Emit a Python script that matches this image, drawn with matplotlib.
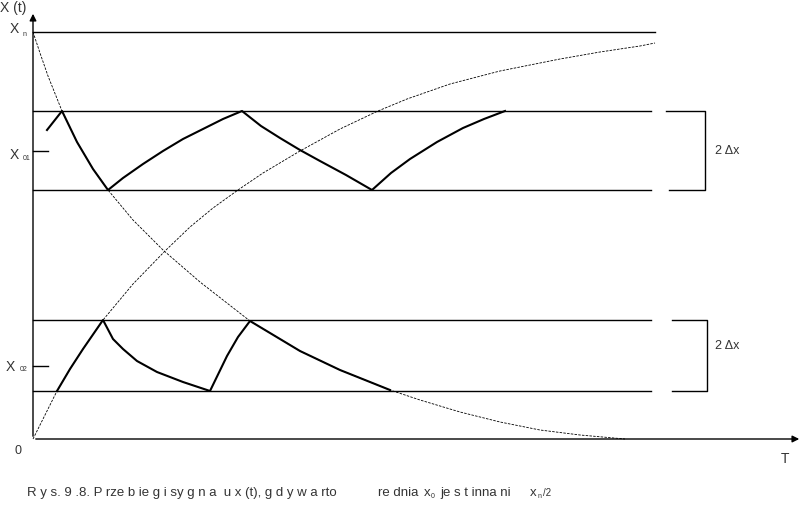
import matplotlib
matplotlib.use("Agg")
import matplotlib.pyplot as plt

# time axis and signal values in arbitrary units (x_n = 407)
xn = 407
band1 = (249, 328)   # upper band x01 +- dx
x01 = 288
band2 = (48, 119)    # lower band x02 +- dx
x02 = 73

# exponential discharge (dotted)
t_down = [0, 7, 15, 29, 44, 60, 75, 100, 130, 167, 217, 267, 307, 357, 387, 427, 467, 507, 547, 592]
x_down = [407, 386, 363, 328, 297, 270, 249, 219, 189, 157, 118, 88, 69, 49, 39, 27, 17, 9, 4, 0]

# exponential charge (dotted)
t_up = [0, 24, 37, 50, 70, 100, 132, 157, 180, 205, 230, 267, 307, 345, 374, 417, 467, 527, 567, 607, 622]
x_up = [0, 48, 70, 90, 119, 155, 188, 212, 231, 249, 266, 288, 310, 328, 340, 355, 368, 380, 387, 393, 396]

# signal when mean value is x01
t_s1 = [14, 29, 44, 60, 75, 90, 110, 130, 150, 170, 190, 209, 228, 247, 267, 287, 313, 339, 358, 377, 404, 430, 451, 472]
x_s1 = [309, 328, 297, 270, 249, 261, 275, 288, 300, 310, 320, 328, 313, 301, 289, 278, 264, 249, 266, 280, 297, 311, 320, 328]

# signal when mean value is x02
t_s2 = [24, 37, 50, 70, 80, 90, 104, 124, 150, 177, 194, 205, 217, 267, 307, 357]
x_s2 = [48, 70, 90, 119, 100, 90, 78, 67, 57, 48, 83, 102, 118, 88, 69, 49]

txt = dict(family=["Liberation Sans Narrow", "Liberation Sans", "DejaVu Sans"], color="#333333")

fig = plt.figure(figsize=(8.03, 5.10), dpi=100)
ax = fig.add_axes([0, 0, 1, 1])
ax.set_xlim(-33, 770)
ax.set_ylim(-70, 440)
ax.axis("off")

# axes with arrows
ax.annotate("", xy=(0, 428), xytext=(0, 0),
            arrowprops=dict(arrowstyle="-|>", color="black", lw=1, mutation_scale=10))
ax.annotate("", xy=(769, 0), xytext=(0, 0),
            arrowprops=dict(arrowstyle="-|>", color="black", lw=1, mutation_scale=10))

# horizontal levels
ax.plot([0, 622], [xn, xn], color="black", lw=1)
for lo, hi in [band1, band2]:
    ax.plot([0, 618], [hi, hi], color="black", lw=1)
    ax.plot([0, 618], [lo, lo], color="black", lw=1)
ax.plot([0, 15], [x01, x01], color="black", lw=1)
ax.plot([0, 15], [x02, x02], color="black", lw=1)

# brackets
ax.plot([633, 672, 672, 636], [band1[1], band1[1], band1[0], band1[0]], color="black", lw=1)
ax.plot([639, 674, 674, 639], [band2[1], band2[1], band2[0], band2[0]], color="black", lw=1)
ax.text(682, (band1[0] + band1[1]) / 2, "2 Δx", fontsize=9, va="center", **txt)
ax.text(682, (band2[0] + band2[1]) / 2 + 10, "2 Δx", fontsize=9, va="center", **txt)

# curves
ax.plot(t_down, x_down, color="black", lw=0.6, ls=(0, (3, 1.5)))
ax.plot(t_up, x_up, color="black", lw=0.6, ls=(0, (3, 1.5)))
ax.plot(t_s1, x_s1, color="black", lw=1.5)
ax.plot(t_s2, x_s2, color="black", lw=1.5)

# labels
ax.text(-33, 432, "X (t)", fontsize=10, va="center", ha="left", **txt)
ax.text(-19, 411, "X", fontsize=10, va="center", ha="center", **txt)
ax.text(-8, 406, "n", fontsize=5, va="center", ha="center", **txt)
ax.text(-19, 285, "X", fontsize=10, va="center", ha="center", **txt)
ax.text(-6, 281, "01", fontsize=5, va="center", ha="center", **txt)
ax.text(-23, 73, "X", fontsize=10, va="center", ha="center", **txt)
ax.text(-9, 70, "02", fontsize=5, va="center", ha="center", **txt)
ax.text(-15, -11, "0", fontsize=9, va="center", ha="center", **txt)
ax.text(752, -19, "T", fontsize=10, va="center", ha="center", **txt)

# caption
ax.text(-6, -53, "R y s. 9 .8. P rze b ie g i sy g n a  u x (t), g d y w a rto", fontsize=9.5, va="center", ha="left", **txt)
ax.text(345, -53, "re dnia", fontsize=9.5, va="center", ha="left", **txt)
ax.text(391, -53, "x", fontsize=9.5, va="center", ha="left", **txt)
ax.text(398, -57, "0", fontsize=5, va="center", ha="left", **txt)
ax.text(407, -53, "je s t inna ni", fontsize=9.5, va="center", ha="left", **txt)
ax.text(497, -53, "x", fontsize=9.5, va="center", ha="left", **txt)
ax.text(505, -57, "n", fontsize=5, va="center", ha="left", **txt)
ax.text(510, -53, "/2", fontsize=7, va="center", ha="left", **txt)

fig.savefig("out.png", dpi=100)
